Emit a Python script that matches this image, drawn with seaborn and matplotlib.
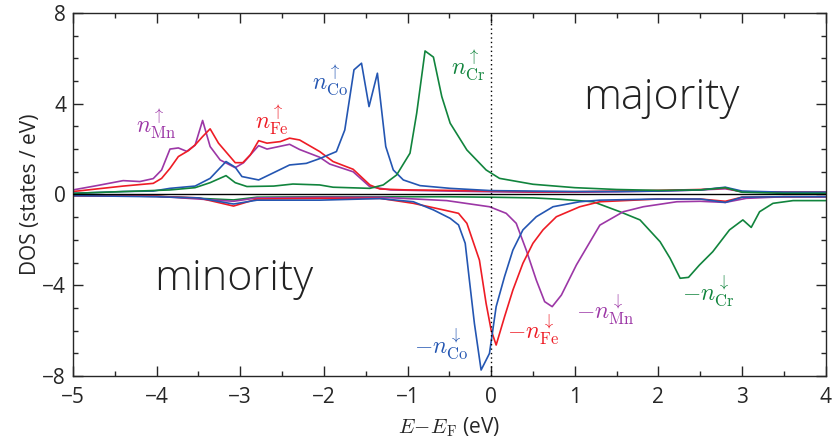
import numpy as np
import pandas as pd
import matplotlib
matplotlib.use("Agg")
import matplotlib.pyplot as plt
from matplotlib.ticker import MultipleLocator
import seaborn as sns

# ---------------- data ----------------
mn_up_x = [-5, -4.7, -4.4, -4.2, -4.04, -3.94, -3.84, -3.74, -3.64, -3.54, -3.45, -3.36, -3.24,
           -3.06, -2.96, -2.88, -2.78, -2.68, -2.41, -2.29, -2.05, -1.93, -1.65, -1.45, -1.2,
           -0.5, 0, 0.5, 1, 1.5, 2, 2.5, 2.8, 3.0, 3.5, 4]
mn_up_y = [0.2, 0.4, 0.61, 0.57, 0.70, 1.08, 2.0, 2.05, 1.9, 2.17, 3.26, 2.11, 1.52,
           1.18, 1.40, 1.74, 2.15, 2.0, 2.21, 1.98, 1.64, 1.34, 1.0, 0.34, 0.2,
           0.15, 0.12, 0.1, 0.1, 0.12, 0.15, 0.2, 0.25, 0.12, 0.1, 0.1]

fe_up_x = [-5, -4.7, -4.4, -4.04, -3.94, -3.84, -3.74, -3.62, -3.54, -3.45, -3.36, -3.26, -3.06,
           -2.97, -2.88, -2.78, -2.68, -2.52, -2.41, -2.29, -2.05, -1.89, -1.65, -1.45, -1.33,
           -1.0, -0.5, 0, 0.5, 1, 1.5, 2, 2.5, 2.8, 3.0, 3.5, 4]
fe_up_y = [0.13, 0.25, 0.37, 0.49, 0.71, 1.15, 1.67, 1.93, 2.18, 2.55, 2.89, 2.26, 1.40,
           1.40, 1.74, 2.37, 2.26, 2.33, 2.48, 2.40, 1.89, 1.45, 1.11, 0.42, 0.24,
           0.2, 0.18, 0.15, 0.12, 0.12, 0.15, 0.18, 0.22, 0.28, 0.12, 0.1, 0.1]

co_up_x = [-5, -4.4, -4.04, -3.84, -3.54, -3.36, -3.17, -3.06, -2.98, -2.78, -2.60, -2.41, -2.21,
           -2.05, -1.85, -1.75, -1.64, -1.55, -1.46, -1.36, -1.26, -1.17, -1.05, -0.85, -0.49,
           0, 0.5, 1, 1.5, 2, 2.5, 2.8, 3.0, 3.5, 4]
co_up_y = [0.05, 0.13, 0.15, 0.27, 0.37, 0.71, 1.45, 1.2, 0.79, 0.64, 0.96, 1.30, 1.37,
           1.58, 1.89, 2.84, 5.49, 5.78, 3.87, 5.34, 2.11, 1.08, 0.64, 0.39, 0.27,
           0.17, 0.15, 0.13, 0.13, 0.15, 0.2, 0.32, 0.15, 0.1, 0.1]

cr_up_x = [-5, -3.84, -3.54, -3.36, -3.17, -3.06, -2.92, -2.60, -2.37, -2.05, -1.89, -1.45, -1.29,
           -1.13, -0.97, -0.89, -0.79, -0.69, -0.59, -0.49, -0.29, -0.06, 0.10, 0.5, 1.0,
           1.5, 2.0, 2.5, 2.8, 3.0, 3.5, 4]
cr_up_y = [0.05, 0.2, 0.3, 0.52, 0.83, 0.52, 0.35, 0.37, 0.46, 0.42, 0.32, 0.27, 0.42,
           0.86, 1.82, 3.58, 6.32, 6.05, 4.31, 3.14, 1.96, 1.08, 0.71, 0.45, 0.3,
           0.22, 0.18, 0.2, 0.3, 0.1, 0.05, 0.05]

co_dn_x = [-5, -4, -3.5, -3.08, -2.8, -2.05, -1.33, -0.93, -0.69, -0.49, -0.39, -0.31, -0.26,
           -0.20, -0.12, -0.02, 0.06, 0.16, 0.26, 0.38, 0.54, 0.74, 1.06, 1.30, 2.0,
           2.5, 2.8, 3.0, 3.5, 4]
co_dn_y = [-0.05, -0.1, -0.15, -0.42, -0.25, -0.25, -0.18, -0.32, -0.68, -1.05, -1.34, -2.15, -3.77,
           -5.68, -7.73, -7.0, -4.94, -3.62, -2.45, -1.56, -0.98, -0.54, -0.32, -0.25, -0.2,
           -0.2, -0.35, -0.12, -0.1, -0.1]

fe_dn_x = [-5, -4, -3.5, -3.08, -2.8, -2.05, -1.33, -0.93, -0.57, -0.39, -0.29, -0.14, -0.06,
           0.0, 0.06, 0.16, 0.26, 0.38, 0.50, 0.62, 0.78, 1.06, 1.30, 2.0, 2.5,
           2.8, 3.0, 3.5, 4]
fe_dn_y = [-0.05, -0.08, -0.15, -0.51, -0.2, -0.17, -0.17, -0.39, -0.68, -0.83, -1.27, -2.89, -4.80,
           -5.97, -6.63, -5.39, -4.21, -3.03, -2.15, -1.56, -0.98, -0.54, -0.32, -0.2, -0.2,
           -0.3, -0.12, -0.1, -0.1]

mn_dn_x = [-5, -4, -3.08, -2.8, -2.05, -1.33, -0.53, -0.02, 0.18, 0.30, 0.42, 0.54, 0.64,
           0.73, 0.84, 1.02, 1.30, 1.58, 1.82, 2.22, 2.5, 2.8, 3.05, 3.5, 4]
mn_dn_y = [-0.05, -0.08, -0.3, -0.15, -0.12, -0.12, -0.27, -0.54, -0.83, -1.27, -2.45, -3.77, -4.72,
           -4.94, -4.43, -3.1, -1.35, -0.76, -0.54, -0.32, -0.3, -0.35, -0.17, -0.1, -0.1]

cr_dn_x = [-5, -4, -3.08, -2.8, -2, -1, -0.5, 0, 0.5, 0.82, 1.22, 1.54, 1.78,
           2.02, 2.14, 2.26, 2.36, 2.49, 2.65, 2.85, 3.01, 3.11, 3.21, 3.37, 3.61, 4]
cr_dn_y = [-0.05, -0.08, -0.24, -0.12, -0.1, -0.1, -0.1, -0.12, -0.15, -0.21, -0.32, -0.76, -1.12,
           -2.08, -2.81, -3.69, -3.65, -3.11, -2.52, -1.56, -1.12, -1.45, -0.76, -0.39, -0.27, -0.27]

x_ticks = [-5, -4, -3, -2, -1, 0, 1, 2, 3, 4]
y_ticks = [-8, -4, 0, 4, 8]

colors = {"Mn": "#9c37a6", "Fe": "#ee1c25", "Co": "#2456b2", "Cr": "#11843d"}

# ---------------- style ----------------
sns.set_style("ticks")
plt.rcParams["font.family"] = ["Open Sans", "DejaVu Sans"]
plt.rcParams["mathtext.fontset"] = "cm"
plt.rcParams["axes.unicode_minus"] = True

fig = plt.figure(figsize=(8.34, 4.42), dpi=100)
ax = fig.add_axes([0.0875, 0.149, 0.9025, 0.822])

series = [
    ("Mn", mn_up_x, mn_up_y), ("Fe", fe_up_x, fe_up_y),
    ("Co", co_up_x, co_up_y), ("Cr", cr_up_x, cr_up_y),
    ("Cr", cr_dn_x, cr_dn_y), ("Mn", mn_dn_x, mn_dn_y),
    ("Fe", fe_dn_x, fe_dn_y), ("Co", co_dn_x, co_dn_y),
]
for el, xs, ys in series:
    df = pd.DataFrame({"E": xs, "DOS": ys})
    sns.lineplot(data=df, x="E", y="DOS", color=colors[el], lw=1.2,
                 estimator=None, sort=False, ax=ax)

ax.axhline(0, color="black", lw=1.0, zorder=5)
ax.axvline(0, color="black", lw=1.0, ls=(0, (1, 2.2)), zorder=5)

ax.set_xlim(-5, 4)
ax.set_ylim(-8, 8)
ax.set_xticks(x_ticks)
ax.set_yticks(y_ticks)
ax.xaxis.set_minor_locator(MultipleLocator(0.5))
ax.yaxis.set_minor_locator(MultipleLocator(1))
ax.tick_params(which="both", direction="in", top=True, right=True, labelsize=15, width=1.0)
ax.tick_params(which="major", length=7)
ax.tick_params(which="minor", length=3.5)
ax.tick_params(axis="x", which="major", pad=8)
ax.tick_params(axis="y", which="major", pad=5)
for sp in ax.spines.values():
    sp.set_linewidth(1.0)

ax.set_xlabel(r"$E\!-\!E_{\rm F}$ (eV)", fontsize=15, labelpad=5)
ax.set_ylabel("DOS (states / eV)", fontsize=15, labelpad=1)

# annotations
lab = 17
ax.text(-4.0, 3.05, r"$n_{\rm Mn}^{\uparrow}$", color=colors["Mn"], fontsize=lab, ha="center", va="center")
ax.text(-2.62, 3.25, r"$n_{\rm Fe}^{\uparrow}$", color=colors["Fe"], fontsize=lab, ha="center", va="center")
ax.text(-1.93, 5.0, r"$n_{\rm Co}^{\uparrow}$", color=colors["Co"], fontsize=lab, ha="center", va="center")
ax.text(-0.28, 5.65, r"$n_{\rm Cr}^{\uparrow}$", color=colors["Cr"], fontsize=lab, ha="center", va="center")
ax.text(-0.6, -6.6, r"$-n_{\rm Co}^{\downarrow}$", color=colors["Co"], fontsize=lab, ha="center", va="center")
ax.text(0.5, -6.0, r"$-n_{\rm Fe}^{\downarrow}$", color=colors["Fe"], fontsize=lab, ha="center", va="center")
ax.text(1.36, -5.1, r"$-n_{\rm Mn}^{\downarrow}$", color=colors["Mn"], fontsize=lab, ha="center", va="center")
ax.text(2.6, -4.25, r"$-n_{\rm Cr}^{\downarrow}$", color=colors["Cr"], fontsize=lab, ha="center", va="center")

ax.text(2.03, 4.25, "majority", fontsize=31, fontweight="light", color="#222222", ha="center", va="center")
ax.text(-3.08, -3.7, "minority", fontsize=31, fontweight="light", color="#222222", ha="center", va="center")

fig.savefig("out.png", dpi=100)
